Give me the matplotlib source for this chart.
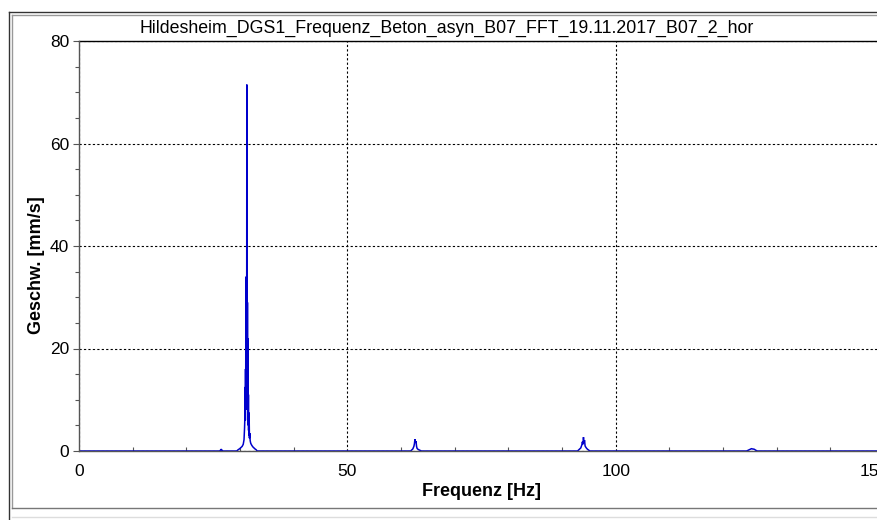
import matplotlib
matplotlib.use("Agg")
import matplotlib.pyplot as plt
from matplotlib.lines import Line2D
from matplotlib.ticker import MultipleLocator
from matplotlib.transforms import ScaledTranslation

plt.rcParams['font.family'] = ['Liberation Sans', 'DejaVu Sans']

title = "Hildesheim_DGS1_Frequenz_Beton_asyn_B07_FFT_19.11.2017_B07_2_hor"

# Spectrum samples (frequency in Hz, velocity amplitude in mm/s)
freq = [0.0, 26.2, 26.4, 26.5, 26.6, 26.8,
        29.4, 29.6, 29.8, 30.0, 30.2, 30.4, 30.6, 30.75, 30.85, 30.92,
        30.96, 31.0, 31.03, 31.06, 31.09, 31.12, 31.15, 31.18, 31.21, 31.24,
        31.27, 31.3, 31.33, 31.36, 31.39, 31.42, 31.45, 31.48, 31.51, 31.54,
        31.57, 31.6, 31.64, 31.68, 31.72, 31.76, 31.8, 31.9, 32.0, 32.2,
        32.4, 32.6, 32.8, 33.0, 33.2,
        61.8, 62.0, 62.2, 62.4, 62.5, 62.6, 62.7, 62.8, 62.9, 63.0,
        63.2, 63.4, 63.6, 63.8,
        92.9, 93.1, 93.3, 93.5, 93.7, 93.8, 93.9, 94.0, 94.1, 94.2,
        94.3, 94.4, 94.6, 94.8, 95.0, 95.2,
        124.4, 124.7, 125.0, 125.3, 125.5, 125.8, 126.1, 126.4,
        150.0]
amp = [0.0, 0.0, 0.2, 0.35, 0.2, 0.0,
       0.0, 0.2, 0.35, 0.5, 0.7, 0.9, 1.3, 2.2, 4.5, 7.0,
       12.5, 6.0, 16.0, 8.0, 34.0, 10.0, 28.0, 12.0, 26.0, 14.0,
       71.5, 13.0, 30.0, 9.0, 29.0, 8.0, 22.0, 6.0, 14.0, 5.0,
       11.0, 4.0, 7.5, 3.0, 5.5, 2.5, 3.5, 2.0, 1.5, 1.1,
       0.8, 0.6, 0.4, 0.25, 0.0,
       0.0, 0.2, 0.4, 0.9, 1.4, 2.3, 1.7, 1.9, 0.9, 0.5,
       0.3, 0.2, 0.1, 0.0,
       0.0, 0.2, 0.4, 0.6, 1.2, 1.8, 1.3, 2.7, 1.6, 2.1,
       1.0, 0.8, 0.5, 0.3, 0.15, 0.0,
       0.0, 0.15, 0.3, 0.45, 0.4, 0.35, 0.15, 0.0,
       0.0]

xlim = (0, 150)
ylim = (0, 80)
xticks = [0, 50, 100, 150]
yticks = [0, 20, 40, 60, 80]

W, H = 878, 520
fig = plt.figure(figsize=(W / 100, H / 100), dpi=100)
fig.patch.set_facecolor('white')

ax = fig.add_axes([79 / W, 1 - 451 / H, (884 - 79) / W, (451 - 41) / H])
ax.set_facecolor('white')

ax.plot(freq, amp, color='#0000cc', lw=1.1, zorder=3, solid_joinstyle='miter')

ax.set_xlim(*xlim)
ax.set_ylim(*ylim)
ax.set_xticks(xticks)
ax.set_yticks(yticks)
ax.xaxis.set_minor_locator(MultipleLocator(10))
ax.yaxis.set_minor_locator(MultipleLocator(5))

ax.grid(True, which='major', color='black', linestyle=(0, (2, 2)), linewidth=0.8)
ax.set_axisbelow(True)

for side in ('left', 'bottom'):
    ax.spines[side].set_color('#555555')
    ax.spines[side].set_linewidth(1.0)
    ax.spines[side].set_zorder(4)
ax.spines['top'].set_color('black')
ax.spines['top'].set_linewidth(1.0)
ax.spines['right'].set_visible(False)

ax.tick_params(axis='y', which='major', direction='out', length=4, width=0.8,
               color='#555555', labelsize=12.5, pad=3)
ax.tick_params(axis='y', which='minor', direction='out', length=3, width=0.8,
               color='#555555')
ax.tick_params(axis='x', which='major', direction='in', length=0, labelsize=12.5, pad=9)
ax.tick_params(axis='x', which='minor', direction='in', length=3, width=0.8,
               color='#555555')

# the last x label is pulled slightly inwards, as the plot edge runs off the window
fig.canvas.draw()
xlabels = ax.get_xticklabels()
xlabels[-1].set_transform(xlabels[-1].get_transform()
                          + ScaledTranslation(-10 / 100, 0, fig.dpi_scale_trans))

ax.set_xlabel("Frequenz [Hz]", fontsize=13, fontweight='bold', va='center')
ax.xaxis.set_label_coords(0.5, (451 - 491) / 410)
ax.set_ylabel("Geschw. [mm/s]", fontsize=13, fontweight='bold', va='center')
ax.yaxis.set_label_coords((37 - 79) / 805, (451 - 265) / 410)

fig.text(447 / W, 1 - 28 / H, title, ha='center', va='center', fontsize=12.8)

# Window frame around the chart
def px_line(x0, y0, x1, y1, color, lw=1.0):
    fig.add_artist(Line2D([x0 / W, x1 / W], [1 - y0 / H, 1 - y1 / H],
                          color=color, lw=lw, transform=fig.transFigure))

px_line(9, 12, 9, 520, '#333333')
px_line(9, 12, 878, 12, '#333333')
px_line(12, 15, 12, 508, '#999999')
px_line(12, 15, 878, 15, '#999999')
px_line(12, 508, 878, 508, '#777777')
px_line(12, 517, 878, 517, '#dddddd')

fig.savefig("out.png", dpi=100, facecolor='white')
